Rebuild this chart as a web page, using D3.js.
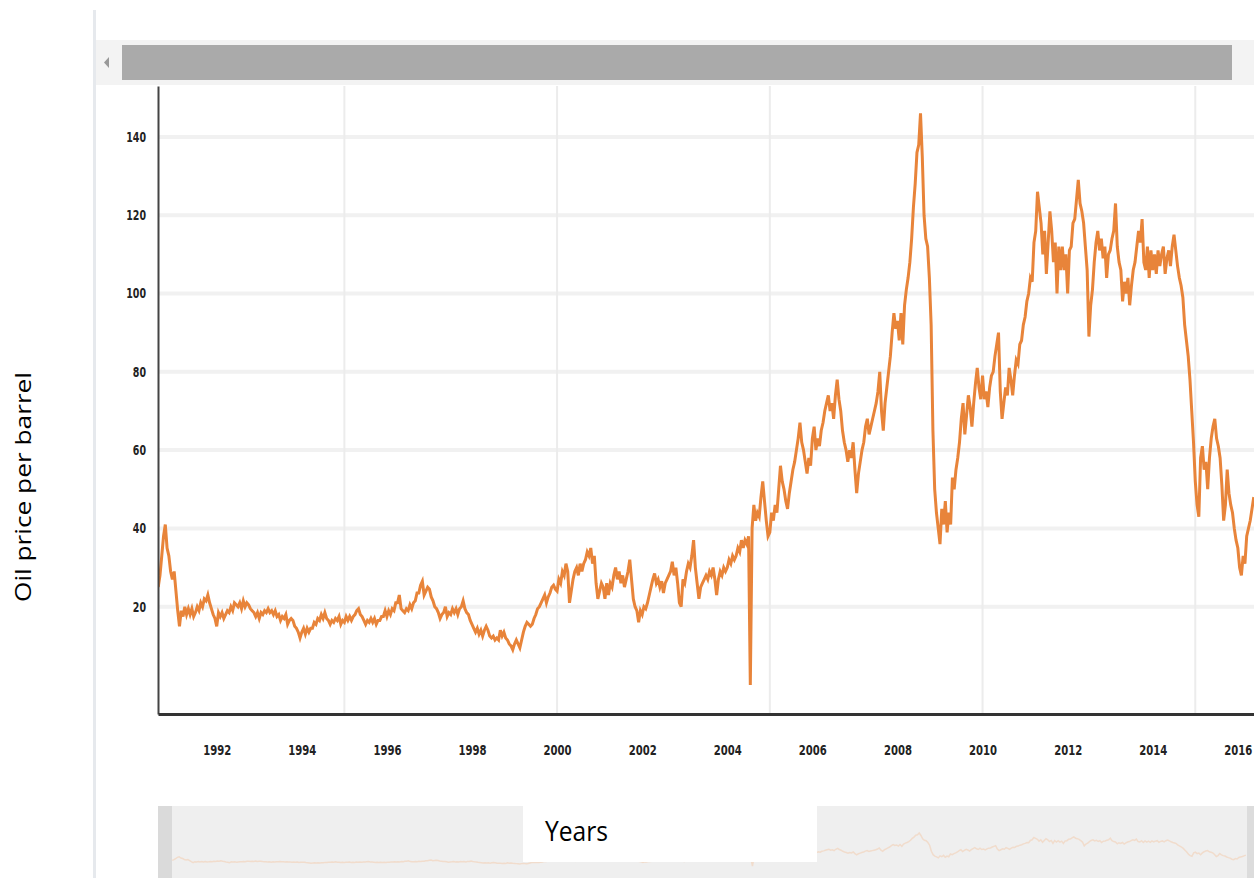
<!DOCTYPE html>
<html>
<head>
<meta charset="utf-8">
<script src="https://cdnjs.cloudflare.com/ajax/libs/d3/7.8.5/d3.min.js"></script>
<style>
body { margin: 0; background: #fff; }
svg { display: block; }
.axis .tick text { font-family: "DejaVu Sans Condensed", "DejaVu Sans", sans-serif; font-weight: bold; font-size: 14px; fill: #222; }
</style>
</head>
<body>
<svg width="1254" height="878"></svg>
<script>
// half-monthly readings of the oil price, starting mid August 1990
var seriesStart = 1990.625,
    step = 1 / 24;

var prices1990s = [
  25, 28, 33, 38, 41, 35, 33, 29, 27,
  29, 24, 19, 15, 19, 17.5, 20, 18, 19.5, 18, 19.5, 17.5, 18.5, 20, 19, 21, 20, 22, 21.5, 23, 21, 19.5, 18, 17,
  15, 18.5, 17.5, 18.5, 17, 18, 19, 18.5, 20, 19, 21, 20.5, 20, 21, 19.5, 21.5, 20, 21, 20.5, 19.5, 19, 18.5, 17.5, 18.5,
  17, 18.5, 18, 19, 18.5, 19.5, 18.5, 19, 18, 19, 17.5, 18, 16.5, 17.5, 17, 18, 15.5, 16.5, 17, 16.5, 15, 14.5, 13.5, 12,
  13.5, 14.5, 13, 14.5, 13.5, 14.5, 14.5, 16, 15.5, 17, 16.5, 18, 17, 18.5, 17, 16.5, 15.5, 16.5, 16, 17, 16.5, 17.5, 15.5, 16.5,
  16, 17.5, 16.5, 17.5, 16.5, 17.5, 18, 19, 19.5, 18, 17.5, 16.5, 15.5, 16.5, 16, 17, 16, 17, 15.5, 16.5, 16.5, 17.5, 17.5, 19,
  17.5, 19, 18, 19.5, 19, 21, 21, 23, 19.5, 19, 18.5, 19.5, 19, 20.5, 19.5, 21, 21.5, 23.5, 23.5, 25.5, 26.5, 23, 24, 25,
  24.5, 22.5, 21.5, 20, 19.5, 18.5, 17, 18, 18.5, 20, 17.5, 18.5, 18, 19.5, 18.5, 19.5, 18, 19.5, 20, 21.5, 19.5, 18.5, 18, 16.5,
  15.5, 14.5, 13.5, 14.5, 13, 14, 12.5, 14, 15, 14, 12.5, 12, 12.5, 11.5, 12, 11.5, 14, 12.5, 13.5, 12, 11.5, 10.5, 10, 9,
  10.5, 11.5, 10.5, 9.5, 11.5, 13.5, 15, 16, 15.5, 15, 15.5, 17, 18, 19.5, 20, 21, 22, 23, 21, 22.5, 23.5, 25, 25.5, 24.5
];

var prices2000s = [
  24, 27, 26, 29, 28, 31, 29, 21, 24, 27, 29, 30, 28, 31, 29, 31, 32, 34, 33, 35, 31, 33, 26, 22,
  24, 26, 25, 22, 26, 23, 26, 25, 28, 30, 27, 29, 26, 28, 25, 27, 29, 32, 27, 22, 20, 19, 16, 19,
  18, 20, 19.5, 21, 23, 25, 27, 28.5, 26, 27, 25, 26.5, 23.5, 26, 27, 28, 29, 31.5, 28, 30, 26, 21, 20, 27,
  26, 29, 31, 30, 33, 37, 30, 26, 22, 25, 26, 27, 28, 27, 29, 28, 30, 27, 23, 27, 29, 28, 30, 29,
  30, 32, 31, 33, 32, 33, 35, 34, 37, 35, 37, 36, 38, 0, 40, 46, 42, 44, 43, 48, 52, 47, 42, 38,
  39, 44, 42, 46, 44, 50, 56, 52, 50, 47, 45, 49, 52, 55, 57, 60, 63, 67, 62, 60, 57, 54, 58, 56,
  63, 66, 60, 63, 61, 65, 67, 70, 72, 74, 70, 72, 68, 74, 78, 73, 70, 65, 62, 60, 57, 60, 58, 62,
  55, 49, 54, 57, 60, 62, 66, 68, 64, 66, 68, 70, 72, 75, 80, 70, 65, 72, 76, 80, 84, 90, 95, 91,
  93, 88, 95, 87, 97, 101, 104, 108, 114, 122, 128, 136, 138, 146, 135, 120, 114, 112, 104, 92, 65, 50, 44, 40,
  36, 45, 41, 47, 39, 44, 41, 53, 50, 55, 58, 62, 68, 72, 64, 69, 74, 71, 66, 72, 77, 81, 76, 73
];

var prices2010s = [
  79, 73, 75, 71, 76, 79, 80, 84, 87, 90, 75, 68, 72, 76, 74, 81, 78, 74, 79, 83, 82, 87, 88, 92,
  94, 98, 100, 104, 103, 113, 116, 126, 122, 118, 110, 116, 105, 113, 121, 116, 108, 113, 100, 112, 106, 112, 106, 110,
  100, 111, 112, 118, 119, 124, 129, 123, 121, 118, 112, 106, 89, 97, 101, 108, 113, 116, 111, 114, 109, 112, 104, 110,
  111, 114, 116, 123, 112, 108, 106, 98, 103, 100, 104, 97, 102, 106, 108, 112, 116, 113, 119, 108, 106, 112, 104, 111,
  106, 110, 105, 111, 107, 110, 112, 105, 109, 111, 107, 112, 115, 111, 107, 104, 102, 99, 92, 88, 84, 78, 70, 62,
  52, 46, 43, 58, 61, 55, 57, 50, 58, 63, 66, 68, 63, 61, 58, 51, 42, 46, 55, 49, 46, 44, 40, 37,
  35, 30, 28, 33, 31, 38, 40, 42, 45, 48
];

var yTicks = [20, 40, 60, 80, 100, 120, 140];
var xTicks = [1992, 1994, 1996, 1998, 2000, 2002, 2004, 2006, 2008, 2010, 2012, 2014, 2016];
var gridYears = [1995, 2000, 2005, 2010, 2015];

var data = prices1990s.concat(prices2000s, prices2010s).map(function(v, i) {
  return { t: seriesStart + i * step, v: v };
});

var svg = d3.select("svg");
var plotLeft = 158, plotRight = 1254, plotTop = 86, plotBottom = 714;

var x = d3.scaleLinear().domain([1990.62, 2016.38]).range([plotLeft, plotRight]);
var y = d3.scaleLinear().domain([-7.4, 153]).range([plotBottom, plotTop]);

// outer frame line on the left
svg.append("rect").attr("x", 93).attr("y", 10).attr("width", 3).attr("height", 868).attr("fill", "#e6e9ed");

// scrollbar at the top
svg.append("rect").attr("x", 96).attr("y", 40).attr("width", 1158).attr("height", 45).attr("fill", "#f3f3f3");
svg.append("rect").attr("x", 122).attr("y", 45).attr("width", 1110).attr("height", 35).attr("fill", "#aaaaaa");
svg.append("path").attr("d", "M109,57L109,68L104,62.5Z").attr("fill", "#999");

// grid
svg.append("g").selectAll("line")
  .data(yTicks)
  .enter().append("line")
  .attr("x1", plotLeft).attr("x2", plotRight)
  .attr("y1", function(d) { return y(d); })
  .attr("y2", function(d) { return y(d); })
  .attr("stroke", "#f1f1f1")
  .attr("stroke-width", 4);

svg.append("g").selectAll("line")
  .data(gridYears)
  .enter().append("line")
  .attr("x1", function(d) { return x(d); })
  .attr("x2", function(d) { return x(d); })
  .attr("y1", plotTop).attr("y2", plotBottom)
  .attr("stroke", "#ececec")
  .attr("stroke-width", 2);

svg.append("clipPath").attr("id", "plot")
  .append("rect").attr("x", plotLeft).attr("y", plotTop).attr("width", plotRight - plotLeft).attr("height", plotBottom - plotTop);

var line = d3.line()
  .x(function(d) { return x(d.t); })
  .y(function(d) { return y(d.v); });

svg.append("path")
  .datum(data)
  .attr("clip-path", "url(#plot)")
  .attr("fill", "none")
  .attr("stroke", "#e8843a")
  .attr("stroke-width", 3)
  .attr("d", line);

// axes
var yAxis = svg.append("g")
  .attr("class", "axis")
  .attr("transform", "translate(" + plotLeft + ",0)")
  .call(d3.axisLeft(y).tickValues(yTicks).tickSize(0).tickPadding(12));
yAxis.select(".domain").attr("stroke", "#444").attr("stroke-width", 2);
yAxis.selectAll(".tick text")
  .attr("textLength", function(d) { return String(d).length * 6.6; })
  .attr("lengthAdjust", "spacingAndGlyphs");

var xAxis = svg.append("g")
  .attr("class", "axis")
  .attr("transform", "translate(0," + plotBottom + ")")
  .call(d3.axisBottom(x).tickValues(xTicks).tickFormat(d3.format("d")).tickSize(0).tickPadding(31));
xAxis.select(".domain").attr("stroke", "#333").attr("stroke-width", 3);
xAxis.selectAll(".tick text")
  .attr("textLength", 28)
  .attr("lengthAdjust", "spacingAndGlyphs");

// navigator at the bottom
var nx = d3.scaleLinear().domain([1990.62, 2016.38]).range([172, 1246]);
var ny = d3.scaleLinear().domain([0, 146]).range([866, 833]);

svg.append("rect").attr("x", plotLeft).attr("y", 806).attr("width", plotRight - plotLeft).attr("height", 72).attr("fill", "#efefef");
svg.append("rect").attr("x", plotLeft).attr("y", 806).attr("width", 14).attr("height", 72).attr("fill", "#dadada");
svg.append("rect").attr("x", 1247).attr("y", 806).attr("width", 7).attr("height", 72).attr("fill", "#dcdcdc");

svg.append("path")
  .datum(data)
  .attr("fill", "none")
  .attr("stroke", "#f1dccc")
  .attr("stroke-width", 1.5)
  .attr("d", d3.line()
    .x(function(d) { return nx(d.t); })
    .y(function(d) { return ny(d.v); }));

svg.append("rect").attr("x", 523).attr("y", 806).attr("width", 294).attr("height", 56).attr("fill", "#fff");
svg.append("text")
  .attr("x", 545).attr("y", 841)
  .attr("font-family", "Open Sans, sans-serif")
  .attr("font-size", 28)
  .attr("textLength", 63)
  .attr("lengthAdjust", "spacingAndGlyphs")
  .attr("fill", "#000")
  .text("Years");

svg.append("text")
  .attr("transform", "translate(31,487) rotate(-90)")
  .attr("text-anchor", "middle")
  .attr("font-family", "Open Sans, sans-serif")
  .attr("font-size", 22)
  .attr("textLength", 230)
  .attr("lengthAdjust", "spacingAndGlyphs")
  .attr("fill", "#000")
  .text("Oil price per barrel");
</script>
</body>
</html>
